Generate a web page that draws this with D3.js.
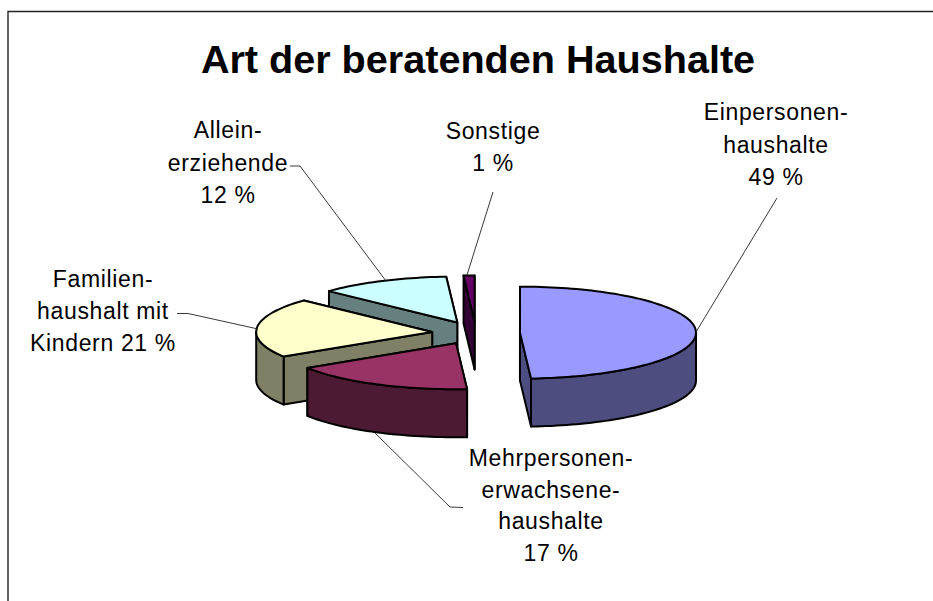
<!DOCTYPE html>
<html><head><meta charset="utf-8">
<style>html,body{margin:0;padding:0;background:#fff}svg{display:block}text{font-family:"Liberation Sans",Arial,sans-serif;fill:#000}</style>
<script src="https://cdnjs.cloudflare.com/ajax/libs/d3/7.8.5/d3.min.js"></script>
</head><body><div id="chart"></div>
<script>
const chartTitle = "Art der beratenden Haushalte";
const categories = ["Einpersonenhaushalte","Mehrpersonenerwachsenehaushalte","Familienhaushalt mit Kindern","Alleinerziehende","Sonstige"];
const shares = [49,17,21,12,1];
const labelLines = [
  ["Einpersonen-","haushalte","49 %"],
  ["Mehrpersonen-","erwachsene-","haushalte","17 %"],
  ["Familien-","haushalt mit","Kindern 21 %"],
  ["Allein-","erziehende","12 %"],
  ["Sonstige","1 %"]
];
const topColors = ["#9999ff","#993366","#ffffcc","#ccffff","#660066"];
const sideColors = ["#4d4d80","#4d1a33","#808066","#668080","#330033"];

const W=933,H=601;
const geo={cx:476,cy:333,rx:176,ry:46,depth:48,explode:0.25};
const labelAnchors=[[776,120,32.5],[551,466,31.7],[103,287,32],[228,138,32.5],[493,139,32]];
const leaders=[
  [[777,198],[696,332]],
  [[375,433],[450,507],[463,507.5]],
  [[177,313.5],[188,313.5],[258,329]],
  [[290,166],[300,166],[386,281]],
  [[493,192],[467,275]]
];

const svg=d3.select("#chart").append("svg").attr("width",W).attr("height",H);
svg.append("rect").attr("width",W).attr("height",H).attr("fill","#fff");

const frame=d3.path();frame.moveTo(8,H);frame.lineTo(8,11.5);frame.lineTo(W,11.5);
svg.append("path").attr("d",frame.toString()).attr("fill","none").attr("stroke","#222").attr("stroke-width",1.4);

svg.append("text").attr("x",478).attr("y",73).attr("text-anchor","middle")
  .attr("font-size",39.6).attr("font-weight","bold").text(chartTitle);

const xs=d3.scaleLinear().domain([-1,1]).range([-geo.rx,geo.rx]);
const ys=d3.scaleLinear().domain([-1,1]).range([geo.ry,-geo.ry]);
const arcs=d3.pie().sort(null).startAngle(0).endAngle(2*Math.PI)(shares);
const line=d3.line().x(d=>d[0]).y(d=>d[1]);

const slices=arcs.map((a,i)=>{
  const mid=(a.startAngle+a.endAngle)/2;
  const ox=geo.cx+geo.explode*xs(Math.sin(mid));
  const oy=geo.cy+geo.explode*ys(Math.cos(mid));
  const pt=t=>[ox+xs(Math.sin(t)),oy+ys(Math.cos(t))];
  return {a,i,mid,ox,oy,pt};
}).sort((p,q)=>p.oy-q.oy);

const stroke={stroke:"#000","stroke-width":2,"stroke-linejoin":"round"};
function face(points,fill){
  const p=svg.append("path").attr("d",line(points)+"Z").attr("fill",fill);
  Object.entries(stroke).forEach(([k,v])=>p.attr(k,v));
}
function rim(s,t0,t1){
  const n=Math.max(2,Math.ceil((t1-t0)/0.03));
  return d3.range(n+1).map(k=>s.pt(t0+(t1-t0)*k/n));
}
const drop=p=>[p[0],p[1]+geo.depth];

slices.forEach(s=>{
  const {a,i}=s,apex=[s.ox,s.oy];
  const cuts=[a.startAngle,a.endAngle].map(t=>s.pt(t)).sort((p,q)=>p[1]-q[1]);
  cuts.forEach(r=>face([apex,r,drop(r),drop(apex)],sideColors[i]));
  const t0=Math.max(a.startAngle,Math.PI/2),t1=Math.min(a.endAngle,3*Math.PI/2);
  if(t1>t0){
    const r=rim(s,t0,t1);
    face(r.concat(r.slice().reverse().map(drop)),sideColors[i]);
  }
  face([apex].concat(rim(s,a.startAngle,a.endAngle)),topColors[i]);
});

leaders.forEach(l=>svg.append("path").attr("d",line(l)).attr("fill","none").attr("stroke","#222").attr("stroke-width",0.9));

labelLines.forEach((lines,i)=>{
  const [x,y,dy]=labelAnchors[i];
  const t=svg.append("text").attr("text-anchor","middle").attr("font-size",23).attr("letter-spacing",0.65);
  lines.forEach((s,k)=>t.append("tspan").attr("x",x).attr("y",y+k*dy).text(s));
});
</script></body></html>
